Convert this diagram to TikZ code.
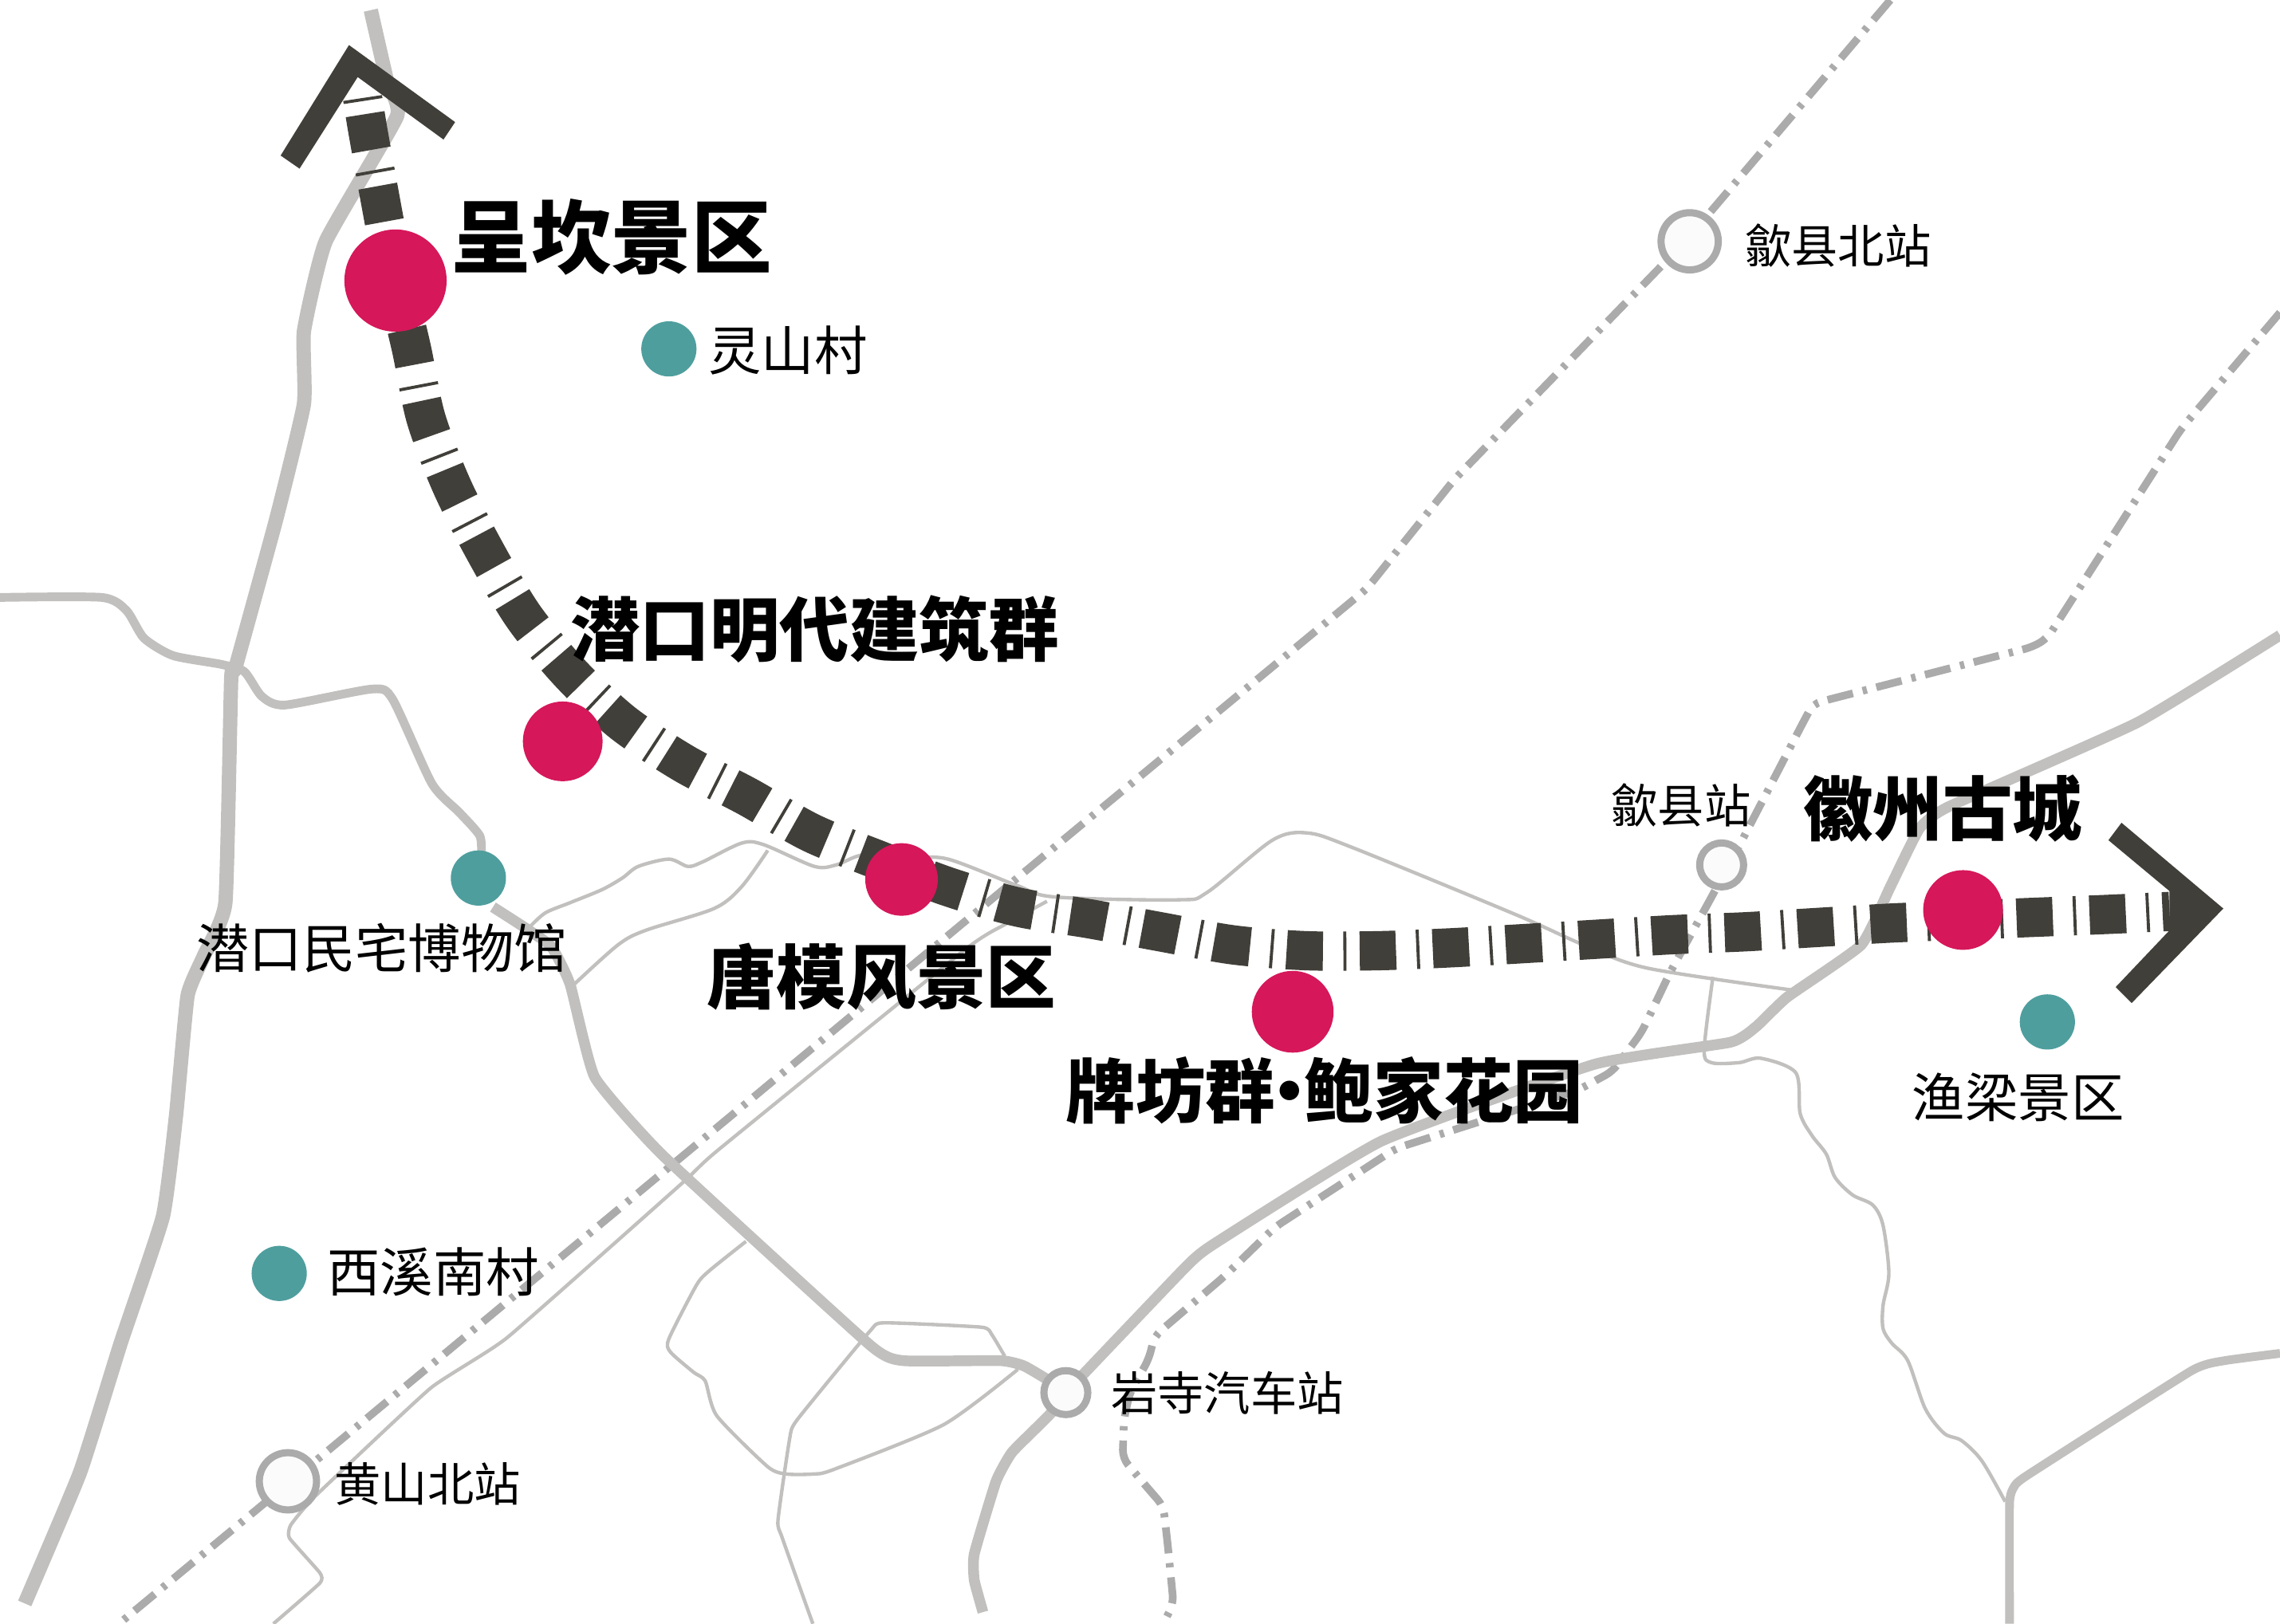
\documentclass[tikz,border=0pt]{standalone}
\usepackage{fontspec}
\setmainfont{Noto Sans CJK SC}
\newfontfamily\heavyfont{Noto Sans CJK SC Black}
\usetikzlibrary{backgrounds}
\definecolor{roadc}{HTML}{C1C0BE}
\definecolor{railc}{HTML}{ABABAB}
\definecolor{routec}{HTML}{413F39}
\definecolor{pinkc}{HTML}{D6175A}
\definecolor{tealc}{HTML}{4F9E9E}
\definecolor{stfill}{HTML}{FBFBFB}
\tikzset{
  thickroad/.style={draw=roadc,line width=14pt,line join=round},
  lowroad/.style={draw=roadc,line width=10.5pt,line join=round},
  midroad/.style={draw=roadc,line width=8.5pt,line join=round},
  thinroad/.style={draw=roadc,line width=3.4pt,line join=round},
  railway/.style={draw=railc,line width=7.5pt,rounded corners=8pt,dash pattern=on 25.6pt off 9.5pt on 4.3pt off 9.8pt},
  routeline/.style={draw=routec,line width=38.4pt,dash pattern=on 35.5pt off 20pt on 3pt off 13pt,dash phase=52pt},
  chevron/.style={fill=routec,draw=none},
  major/.style={circle,fill=pinkc,draw=none,inner sep=0pt},
  village/.style={circle,fill=tealc,draw=none,inner sep=0pt,minimum size=54pt},
  station/.style={circle,fill=stfill,draw=railc,line width=7pt,inner sep=0pt},
  bigtext/.style={anchor=west,inner sep=0pt,font=\heavyfont\fontsize{68.3}{68.3}\selectfont},
  smalltext/.style={anchor=west,inner sep=0pt,font=\fontsize{51.8}{52}\selectfont},
  tinytext/.style={anchor=west,inner sep=0pt,font=\fontsize{45.5}{46}\selectfont},
}
\begin{document}
\begin{tikzpicture}[x=0.05cm,y=-0.05cm]
\useasboundingbox (0,0) rectangle (1568,1117);
\fill[white] (0,0) rectangle (1568,1117);
\begin{scope}
\clip (0,0) rectangle (1568,1117);
% thin roads
\draw[thinroad] plot[smooth,tension=0.5] coordinates {(395,677) (425,650) (444,640) (491,625) (510,610) (528,585)};
\draw[thinroad] plot[smooth,tension=0.5] coordinates {(364,638) (375,628) (392,621) (414,612) (428,604) (439,596) (460,591) (473,596) (483,593) (510,580) (525,581) (560,596) (575,595) (594,588) (625,590) (652,591) (699,609) (725,617) (810,619) (830,614) (875,578) (899,573) (930,583) (1042,629) (1089,650) (1133,666) (1232,681)};
\draw[thinroad] plot[smooth,tension=0.25] coordinates {(720,620) (691,636) (664,653) (494,791) (469,814) (349,920) (296,955) (217,1029) (200,1049) (199,1058) (220,1082) (220,1089) (188,1117)};
\draw[thinroad] plot[smooth,tension=0.4] coordinates {(513,854) (488,874) (479,884) (460,921) (461,930) (477,944) (485,950) (493,974) (528,1009) (541,1014) (559,1014) (573,1011) (649,980) (700,942)};
\draw[thinroad] plot[smooth,tension=0.3] coordinates {(691,933) (682,918) (675,913) (608,910) (598,916) (548,977) (543,990) (535,1046) (538,1058) (559,1117)};
\draw[thinroad] plot[smooth,tension=0.5] coordinates {(1178,672) (1172,722) (1177,731) (1196,731) (1211,728) (1235,738) (1238,766) (1246,781) (1256,794) (1262,810) (1274,822) (1288,829) (1295,843) (1299,876) (1295,898) (1295,914) (1301,924) (1312,936) (1324,969) (1337,986) (1349,991) (1363,1005) (1379,1033)};
% railways
\draw[railway] (1300,0) -- (1160,165) -- (1000,330) -- (940,405) -- (714,592) -- (489,779) -- (223,1000) -- (83,1116);
\draw[railway] (1568,215) -- (1500,295) -- (1408,439) -- (1398,445) -- (1247,484) -- (1240,497) -- (1196,582) -- (1176,619) -- (1149,668) -- (1129,710) -- (1109,737) -- (1085,750) -- (960,790) -- (877,844) -- (842,878) -- (794,919) -- (790,935) -- (777,958) -- (773,976) -- (772,1003) -- (787,1021) -- (800,1036) -- (803,1062) -- (807,1103) -- (800,1117);
% main roads
\draw[thickroad] plot[smooth,tension=0.25] coordinates {(255,7) (266,55) (273,80) (224,166) (209,228) (209,278) (190,357) (162,459) (159,467) (155,621) (140,658) (129,685) (121,768) (112,837) (83,924) (55,1013) (17,1103)};
\draw[midroad] plot[smooth,tension=0.4] coordinates {(0,411) (70,411) (87,420) (99,439) (119,451) (152,457) (168,462) (180,479) (196,485) (256,474) (270,481) (297,539) (316,559) (330,575) (331,589)};
\draw[lowroad] plot[smooth,tension=0.25] coordinates {(339,624) (378,650) (392,677) (409,741) (456,795) (598,925) (621,936) (688,936) (705,940) (733,958) (721,974) (696,999) (685,1019) (670,1069) (670,1087) (676,1109)};
\draw[lowroad] plot[smooth,tension=0.25] coordinates {(733,958) (816,871) (836,855) (950,785) (1097,732) (1190,717) (1208,706) (1229,686) (1280,650) (1300,610) (1320,570) (1340,555) (1470,497) (1568,437)};
\draw[midroad] plot[smooth,tension=0.25] coordinates {(1568,931) (1530,936) (1507,943) (1394,1015) (1385,1023) (1382,1034) (1382,1117)};
% scenic route
\draw[routeline] plot[smooth,tension=0.5] coordinates {(249,65) (253,90) (262,140) (272,193) (283,240) (293,288) (311,335) (334,380) (360,424) (392,463) (428,497) (470,525) (514,548) (558,573) (605,592) (652,610) (700,624) (749,632) (798,641) (848,650) (898,654) (948,654) (998,652) (1050,649) (1100,646) (1150,643) (1200,641) (1250,638) (1300,635) (1350,633) (1400,631) (1450,629) (1492,627)};
\fill[chevron] (240,31) -- (313,84) -- (305,96) -- (246,53) -- (206,116) -- (193,107) -- cycle;
\fill[chevron] (1459,566) -- (1529,625) -- (1466,690) -- (1455,679) -- (1492,640) -- (1492,613) -- (1450,578) -- cycle;
\end{scope}
% stations
\node[station,minimum size=56pt] (shexianbei) at (1162,166) {};
\node[station,minimum size=43pt] (shexian) at (1184,595) {};
\node[station,minimum size=43pt] (yansi) at (733,958) {};
\node[station,minimum size=56pt] (huangshanbei) at (198,1019) {};
% major sites
\node[major,minimum size=100pt] (chengkan) at (272,193) {};
\node[major,minimum size=78pt] (qiankou) at (387,510) {};
\node[major,minimum size=71pt] (tangmo) at (620,605) {};
\node[major,minimum size=80pt] (paifang) at (889,696) {};
\node[major,minimum size=78pt] (huizhou) at (1350,626) {};
% villages
\node[village] (lingshan) at (460,240) {};
\node[village] (minzhai) at (329,604) {};
\node[village] (xixi) at (192,876) {};
\node[village] (yuliang) at (1408,703) {};
% labels
\node[bigtext,font=\heavyfont\fontsize{78.5}{78.5}\selectfont] (t1) at (310,163) {呈坎景区};
\node[bigtext] (t2) at (392,433) {潜口明代建筑群};
\node[bigtext] (t3) at (486,672) {唐模风景区};
\node[bigtext] (t4) at (733,750) {牌坊群\makebox[28pt][c]{•}鲍家花园};
\node[bigtext] (t5) at (1240,556) {徽州古城};
\node[smalltext] (t6) at (487,241) {灵山村};
\node[tinytext] (t7) at (1200,169) {歙县北站};
\node[smalltext] (t8) at (135,652) {潜口民宅博物馆};
\node[smalltext] (t9) at (225,875) {西溪南村};
\node[tinytext] (t10) at (230,1021) {黄山北站};
\node[tinytext] (t11) at (764,958) {岩寺汽车站};
\node[tinytext] (t12) at (1108,554) {歙县站};
\node[smalltext] (t13) at (1315,755) {渔梁景区};
\end{tikzpicture}
\end{document}
